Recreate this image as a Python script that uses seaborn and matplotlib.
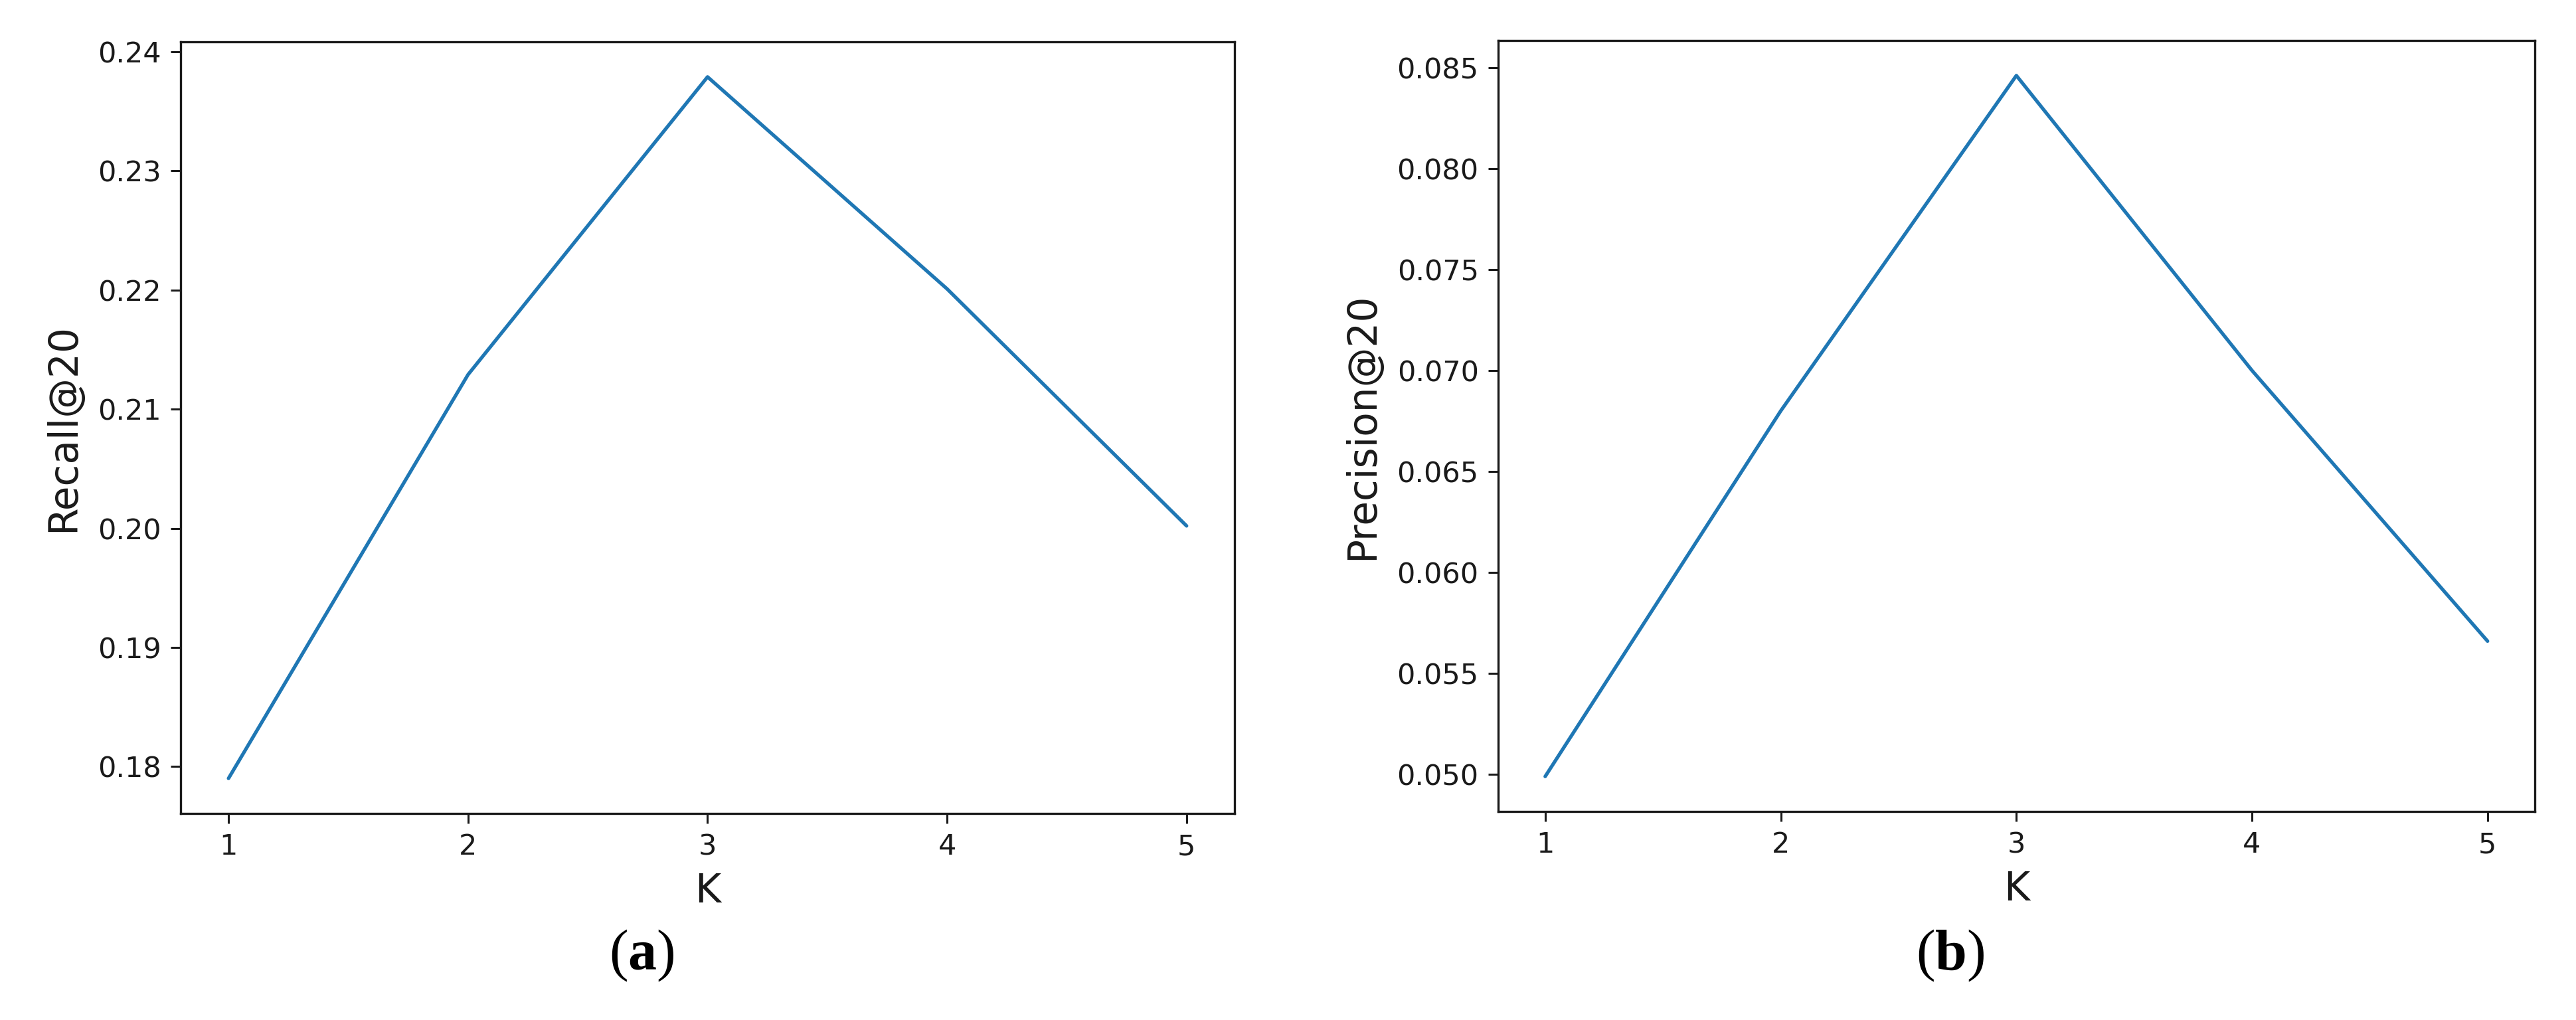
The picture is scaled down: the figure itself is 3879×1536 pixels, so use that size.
"""
Recall@20 and Precision@20 against the number of K, side by side.
"""

import matplotlib
matplotlib.use("Agg")
import matplotlib.pyplot as plt
import seaborn as sns

K_VALUES = [1, 2, 3, 4, 5]
RECALL_20 = [0.1790, 0.2129, 0.2379, 0.2201, 0.2002]
PRECISION_20 = [0.0499, 0.0680, 0.0846, 0.0700, 0.0566]

PANELS = [
    ("Recall@20", RECALL_20, "a"),
    ("Precision@20", PRECISION_20, "b"),
]

sns.set_theme(style="ticks")
plt.rcParams["font.family"] = ["DejaVu Sans"]
plt.rcParams["mathtext.fontset"] = "custom"
plt.rcParams["mathtext.rm"] = "Liberation Serif"
plt.rcParams["mathtext.bf"] = "Liberation Serif:bold"

LINE_COLOR = "#1f77b4"
AXES_POS = [
    [0.0701, 0.2025, 0.4090, 0.7565],
    [0.5814, 0.2044, 0.4023, 0.7559],
]
LETTER_X = [0.249, 0.757]


def draw_panel(fig, pos, ylabel, values):
    ax = fig.add_axes(pos)
    sns.lineplot(x=K_VALUES, y=values, ax=ax, color=LINE_COLOR, linewidth=1.9)
    ax.set_xticks(K_VALUES)
    ax.set_xlabel("K", fontsize=21.5, labelpad=6, color="#1a1a1a")
    ax.set_ylabel(ylabel, fontsize=21.5, labelpad=8, color="#1a1a1a")
    ax.tick_params(axis="both", labelsize=15.5, length=5.5, width=1.1,
                   pad=5, colors="#1a1a1a")
    for spine in ax.spines.values():
        spine.set_visible(True)
        spine.set_color("#1a1a1a")
        spine.set_linewidth(1.2)
    return ax


def main():
    fig = plt.figure(figsize=(19.4, 7.68), dpi=200)
    for pos, (ylabel, values, letter), lx in zip(AXES_POS, PANELS, LETTER_X):
        draw_panel(fig, pos, ylabel, values)
        fig.text(lx, 0.063, rf"($\mathbf{{{letter}}}$)", ha="center",
                 va="center", fontsize=31, family="Liberation Serif",
                 color="black")
    fig.savefig("out.png", dpi=200, facecolor="white")
    plt.close(fig)


if __name__ == "__main__":
    main()
